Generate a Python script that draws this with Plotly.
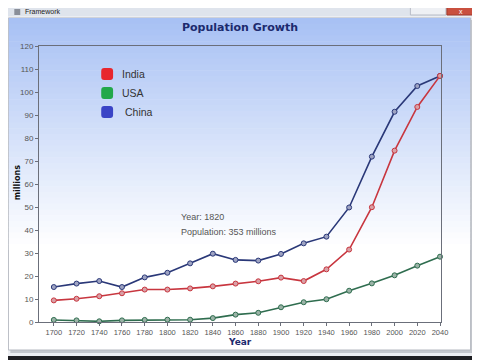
import plotly.graph_objects as go

# ---- data ----
years = [1700, 1720, 1740, 1760, 1780, 1800, 1820, 1840, 1860, 1880,
         1900, 1920, 1940, 1960, 1980, 2000, 2020, 2040]
india = [9.4, 10.1, 11.2, 12.5, 14.1, 14.1, 14.6, 15.5, 16.7, 17.7,
         19.3, 17.8, 22.9, 31.5, 49.9, 74.5, 93.5, 107.0]
usa = [0.9, 0.7, 0.3, 0.7, 0.9, 1.0, 1.0, 1.7, 3.2, 4.0,
       6.4, 8.6, 9.9, 13.6, 16.8, 20.3, 24.5, 28.4]
china = [15.2, 16.7, 17.8, 15.2, 19.4, 21.4, 25.5, 29.7, 27.0, 26.7,
         29.6, 34.2, 37.1, 49.8, 71.9, 91.4, 102.6, 107.0]
series_names = ["India", "USA", "China"]
y_ticks = list(range(0, 121, 10))
x_ticks = list(range(1700, 2041, 20))

# ---- geometry (window pixels; the page body adds an 8px offset) ----
OFF = 8
W_PX, H_PX = 480 - OFF, 360 - OFF
L, R, T, B = 34, 441, 46, 322
PW, PH = R - L, B - T


def px(x):
    return (x - L) / PW


def py(y):
    return (B - y) / PH


line_cols = {"India": "#c8363f", "USA": "#2f6d4f", "China": "#2a3878"}
swatch_cols = {"India": "#e8262e", "USA": "#23a84a", "China": "#3a44c6"}
marker_fill = {"India": "#d9a0a6", "USA": "#9bb3a7", "China": "#9ea3c2"}
values = {"India": india, "USA": usa, "China": china}

fig = go.Figure()
for name in ["China", "India", "USA"]:
    fig.add_trace(go.Scatter(
        x=years, y=values[name], mode="lines+markers", name=name,
        line=dict(color=line_cols[name], width=1.6),
        marker=dict(size=5, color=marker_fill[name],
                    line=dict(color=line_cols[name], width=1)),
        cliponaxis=False, showlegend=False, hoverinfo="skip"))

shapes = []
# window frame / title bar
shapes.append(dict(type="rect", xref="paper", yref="paper", layer="below",
                   x0=px(0), x1=px(480), y0=py(0), y1=py(16),
                   fillcolor="#dfe4ec", line=dict(width=0)))
shapes.append(dict(type="rect", xref="paper", yref="paper", layer="below",
                   x0=px(9), x1=px(15), y0=py(9), y1=py(15),
                   fillcolor="#8a8f99", line=dict(width=0)))
shapes.append(dict(type="rect", xref="paper", yref="paper", layer="below",
                   x0=px(410), x1=px(446), y0=py(6), y1=py(15),
                   fillcolor="#eef0f4", line=dict(color="#b8bcc6", width=1)))
shapes.append(dict(type="rect", xref="paper", yref="paper", layer="below",
                   x0=px(447), x1=px(475), y0=py(6), y1=py(15),
                   fillcolor="#c9503f", line=dict(color="#a03a2c", width=1)))
# window body
shapes.append(dict(type="rect", xref="paper", yref="paper", layer="below",
                   x0=px(0), x1=px(480), y0=py(16), y1=py(356),
                   fillcolor="#eceef2", line=dict(width=0)))
shapes.append(dict(type="rect", xref="paper", yref="paper", layer="below",
                   x0=px(0), x1=px(480), y0=py(356), y1=py(360),
                   fillcolor="#1e1e22", line=dict(width=0)))
# panel shadow + base (white)
shapes.append(dict(type="rect", xref="paper", yref="paper", layer="below",
                   x0=px(5), x1=px(473), y0=py(20), y1=py(353),
                   fillcolor="#c4c7cd", line=dict(width=0)))
shapes.append(dict(type="rect", xref="paper", yref="paper", layer="below",
                   x0=px(3), x1=px(471), y0=py(18), y1=py(350),
                   fillcolor="#ffffff", line=dict(color="#b4b8c0", width=1)))

# vertical gradient (light blue -> white)
top_c = (168, 193, 244)
g_top, g_bot = 18, 250
n = 40
for i in range(n):
    y0 = g_top + (g_bot - g_top) * i / n
    y1 = g_top + (g_bot - g_top) * (i + 1) / n + 0.6
    t = i / (n - 1)
    c = tuple(int(round(top_c[k] + (255 - top_c[k]) * t)) for k in range(3))
    shapes.append(dict(type="rect", xref="paper", yref="paper", layer="below",
                       x0=px(3.5), x1=px(470.5), y0=py(y0), y1=py(min(y1, g_bot)),
                       fillcolor="rgb(%d,%d,%d)" % c, line=dict(width=0)))

# legend swatches
leg_y = {"India": 74, "USA": 93, "China": 112}
leg_tx = {"India": 116, "USA": 116, "China": 119}
for name in series_names:
    cy = leg_y[name]
    x0, x1, y0, y1, r = 97, 109, cy - 6, cy + 6, 3
    path = ("M {a},{b} L {c},{b} Q {d},{b} {d},{e} L {d},{f} Q {d},{g} {c},{g} "
            "L {a},{g} Q {h},{g} {h},{f} L {h},{e} Q {h},{b} {a},{b} Z").format(
        a=px(x0 + r), b=py(y0), c=px(x1 - r), d=px(x1), e=py(y0 + r),
        f=py(y1 - r), g=py(y1), h=px(x0))
    shapes.append(dict(type="path", xref="paper", yref="paper", path=path,
                       fillcolor=swatch_cols[name], line=dict(width=0)))

annotations = [
    dict(text="Framework", x=px(18), y=py(12), xref="paper", yref="paper",
         xanchor="left", yanchor="middle", showarrow=False,
         font=dict(family="Liberation Sans", size=7, color="#222222")),
    dict(text="x", x=px(461), y=py(11.5), xref="paper", yref="paper",
         xanchor="center", yanchor="middle", showarrow=False,
         font=dict(family="Liberation Sans", size=7, color="#ffffff")),
    dict(text="<b>Population Growth</b>", x=px(237), y=py(28), xref="paper",
         yref="paper", xanchor="center", yanchor="middle", showarrow=False,
         font=dict(family="DejaVu Sans", size=11, color="#1c2a6e")),
    dict(text="<b>Year</b>", x=px(237), y=py(342), xref="paper", yref="paper",
         xanchor="center", yanchor="middle", showarrow=False,
         font=dict(family="DejaVu Sans", size=9, color="#1c2a6e")),
    dict(text="<b>millions</b>", x=px(12), y=py(183), xref="paper", yref="paper",
         xanchor="center", yanchor="middle", showarrow=False, textangle=-90,
         font=dict(family="DejaVu Sans", size=8, color="#111111")),
    dict(text="Year: 1820", x=px(176), y=py(217), xref="paper", yref="paper",
         xanchor="left", yanchor="middle", showarrow=False,
         font=dict(family="Liberation Sans", size=9, color="#555555")),
    dict(text="Population: 353 millions", x=px(176), y=py(232), xref="paper",
         yref="paper", xanchor="left", yanchor="middle", showarrow=False,
         font=dict(family="Liberation Sans", size=9, color="#555555")),
]
for name in series_names:
    annotations.append(dict(text=name, x=px(leg_tx[name]), y=py(leg_y[name]),
                            xref="paper", yref="paper", xanchor="left",
                            yanchor="middle", showarrow=False,
                            font=dict(family="Liberation Sans", size=10.5,
                                      color="#333333")))

px_per_year = (440 - 49) / 340.0
x_lo = 1700 - (49 - L) / px_per_year
x_hi = 2040 + (R - 440) / px_per_year

fig.update_layout(
    width=W_PX, height=H_PX,
    margin=dict(l=L - OFF, r=480 - R, t=T - OFF, b=360 - B, pad=0),
    paper_bgcolor="#dfe3ea", plot_bgcolor="rgba(0,0,0,0)",
    shapes=shapes, annotations=annotations, showlegend=False,
    xaxis=dict(range=[x_lo, x_hi], tickvals=x_ticks, showgrid=False,
               zeroline=False, showline=True, linecolor="#6b6f7a", linewidth=1,
               mirror=True, ticks="outside", ticklen=3, tickcolor="#6b6f7a",
               tickfont=dict(family="Liberation Sans", size=7.5, color="#555555")),
    yaxis=dict(range=[0, 120], tickvals=y_ticks, showgrid=False,
               zeroline=False, showline=True, linecolor="#6b6f7a", linewidth=1,
               mirror=True, ticks="outside", ticklen=3, tickcolor="#6b6f7a",
               tickfont=dict(family="Liberation Sans", size=8, color="#555555")),
)

fig.write_html("out.html")
